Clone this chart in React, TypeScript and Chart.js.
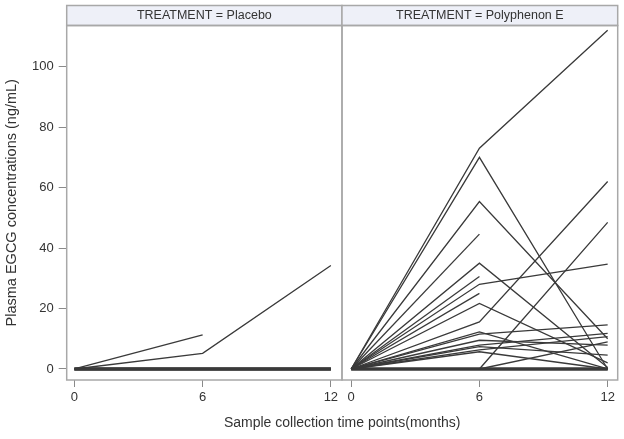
import React, { useEffect, useRef } from "react";
import { Chart, registerables } from "chart.js";

Chart.register(...registerables);

const MONTHS = [0, 6, 12];
const PANEL_NAMES = ["Placebo", "Polyphenon E"];
const Y_TICKS = [0, 20, 40, 60, 80, 100];
const X_TICKS = [0, 6, 12];

// Placebo subjects: EGCG at months 0, 6, 12 (null = not sampled)
const PLACEBO: (number | null)[][] = [
  [0, 11.3, null],
  [0, 5.2, 34.2],
  [0, 0, 0],
  [0, 0, 0],
  [0, 0, 0],
];

// Polyphenon E subjects
const POLY: (number | null)[][] = [
  [0, 73, 112],
  [0, 70, 0],
  [0, 55.4, 10],
  [0, 44.6, null],
  [0, 35, 0.5],
  [0, 30.6, null],
  [0, 28, 34.7],
  [0, 25, null],
  [0, 21.7, 2],
  [0, 15.6, 62],
  [0, 0, 48.5],
  [0, 12.3, 0],
  [0, 11.5, 14.6],
  [0, 9.5, 7.9],
  [0, 7.9, 11.8],
  [0, 7.4, 4.6],
  [0, 6.3, 10.7],
  [0, 5.7, 0],
  [0, 0, 9],
  [0, 0, 0],
  [0, 0, 0],
];

const FONT = "'Liberation Sans', Arial, sans-serif";
const TEXT = "#333333";
const FRAME = "#a8a8a8";
const PANEL_SHIFT = 12.95; // horizontal shift of second panel in axis units
const X_MIN = -0.36;
const X_MAX = PANEL_SHIFT + 12.47;
const DIVIDER = 12.52;

function toDatasets(rows: (number | null)[][], shift: number) {
  return rows.map((row) => {
    const pts = MONTHS.map((m, i) =>
      row[i] === null ? null : { x: m + shift, y: row[i] as number }
    ).filter((p) => p !== null) as { x: number; y: number }[];
    const allZero = pts.every((p) => p.y === 0);
    return {
      data: pts,
      borderColor: "#3a3a3a",
      borderWidth: allZero ? 3 : 1.3,
      pointRadius: 0,
      tension: 0,
      fill: false,
    };
  });
}

const panelPlugin = {
  id: "panels",
  afterDraw(chart: any) {
    const { ctx, chartArea } = chart;
    const xs = chart.scales.x;
    const div = xs.getPixelForValue(DIVIDER);
    const panels = [
      [chartArea.left, div],
      [div, chartArea.right],
    ];
    const headTop = 5.5;
    ctx.save();
    ctx.strokeStyle = FRAME;
    ctx.lineWidth = 1.5;
    panels.forEach(([l, r], i) => {
      ctx.fillStyle = "#eef0f8";
      ctx.fillRect(l, headTop, r - l, chartArea.top - headTop);
      ctx.strokeRect(l, headTop, r - l, chartArea.top - headTop);
      ctx.strokeRect(l, chartArea.top, r - l, chartArea.bottom - chartArea.top);
      ctx.fillStyle = TEXT;
      ctx.font = `12.5px ${FONT}`;
      ctx.textAlign = "center";
      ctx.textBaseline = "middle";
      ctx.fillText(`TREATMENT = ${PANEL_NAMES[i]}`, (l + r) / 2, (headTop + chartArea.top) / 2 + 0.5);
    });
    ctx.restore();
  },
};

export default function App() {
  const ref = useRef<HTMLCanvasElement | null>(null);
  useEffect(() => {
    if (!ref.current) return;
    const datasets = [...toDatasets(PLACEBO, 0), ...toDatasets(POLY, PANEL_SHIFT)];
    const chart = new Chart(ref.current, {
      type: "line",
      data: { datasets },
      plugins: [panelPlugin],
      options: {
        animation: false,
        responsive: false,
        layout: { padding: { top: 25.5, right: 6.3, left: 0, bottom: 0 } },
        plugins: { legend: { display: false }, tooltip: { enabled: false } },
        scales: {
          x: {
            type: "linear",
            min: X_MIN,
            max: X_MAX,
            afterBuildTicks: (s: any) => {
              s.ticks = [
                ...X_TICKS.map((v) => ({ value: v })),
                ...X_TICKS.map((v) => ({ value: v + PANEL_SHIFT })),
              ];
            },
            afterFit: (s: any) => {
              s.height = 59;
            },
            ticks: {
              autoSkip: false,
              maxRotation: 0,
              padding: 3,
              color: TEXT,
              font: { family: FONT, size: 13 },
              callback: (v: any) => {
                const n = Number(v);
                return String(Math.round(n > PANEL_SHIFT - 0.5 ? n - PANEL_SHIFT : n));
              },
            },
            grid: { drawOnChartArea: false, drawTicks: true, tickLength: 7, color: "#8a8a8a" },
            border: { display: false },
            title: {
              display: true,
              text: "Sample collection time points(months)",
              color: TEXT,
              font: { family: FONT, size: 14 },
              padding: { top: 0, bottom: 7 },
            },
          },
          y: {
            min: -3.64,
            max: 113.6,
            afterBuildTicks: (s: any) => {
              s.ticks = Y_TICKS.map((v) => ({ value: v }));
            },
            afterFit: (s: any) => {
              s.width = 66.7;
            },
            ticks: {
              padding: 5,
              color: TEXT,
              font: { family: FONT, size: 13 },
            },
            grid: { drawOnChartArea: false, drawTicks: true, tickLength: 8, color: "#8a8a8a" },
            border: { display: false },
            title: {
              display: true,
              text: "Plasma EGCG concentrations (ng/mL)",
              color: TEXT,
              font: { family: FONT, size: 14.5 },
              padding: { top: 3, bottom: 0 },
            },
          },
        },
      },
    });
    return () => chart.destroy();
  }, []);
  return (
    <div style={{ position: "absolute", left: 0, top: 0, width: 624, height: 439, background: "#fff" }}>
      <canvas ref={ref} width={624} height={439} style={{ display: "block" }} />
    </div>
  );
}
